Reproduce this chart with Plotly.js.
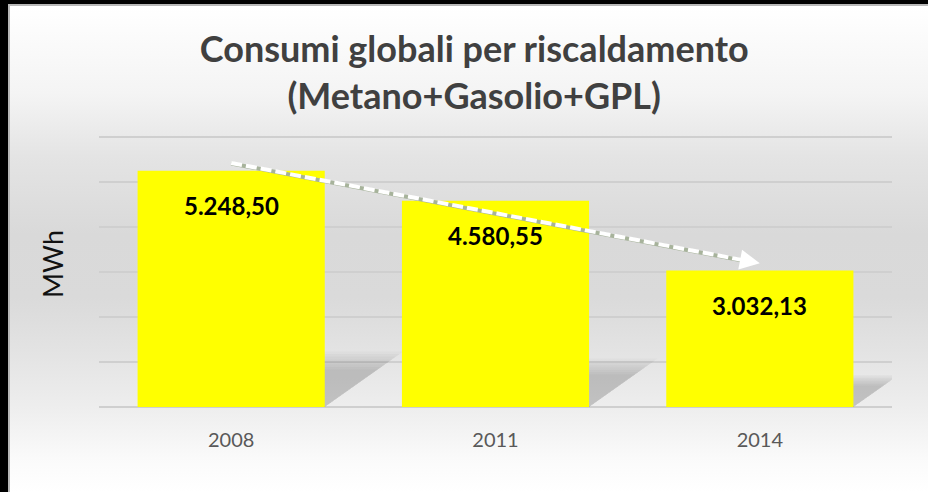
<!DOCTYPE html>
<html>
<head>
<meta charset="utf-8">
<script src="https://cdn.plot.ly/plotly-3.0.1.min.js"></script>
<style>
  html, body { margin: 0; padding: 0; width: 928px; height: 492px; background: #000; overflow: hidden; }
  #bg { position: absolute; left: 8px; top: 4px; width: 918px; height: 486px;
        border-left: 2px solid #b8b8b8; border-top: 2px solid #b8b8b8;
        background: linear-gradient(to bottom, #ffffff 0%, #f4f4f4 18%, #e4e4e4 31%, #d9d9d9 47%, #dadada 60%, #e3e3e3 71%, #eeeeee 83%, #fafafa 93%, #ffffff 100%); }
  #chart { position: absolute; left: 0; top: 0; width: 928px; height: 492px; }
</style>
</head>
<body>
<div id="bg"></div>
<div id="chart"></div>
<script>
const categories = ['2008', '2011', '2014'];
const values = [5248.50, 4580.55, 3032.13];
const gridValues = [1000, 2000, 3000, 4000, 5000, 6000];
const titleText = 'Consumi globali per riscaldamento<br>(Metano+Gasolio+GPL)';
const yTitle = 'MWh';
const trendOffsets = [175, 160];

function fmtIt(v) {
  const parts = v.toFixed(2).split('.');
  const intPart = parts[0].replace(/\B(?=(\d{3})+(?!\d))/g, '.');
  return intPart + ',' + parts[1];
}

const idx = categories.map((c, i) => i);
const barWidth = 0.708;
const barHalf = barWidth / 2;
const shapes = [];
values.forEach((v, i) => {
  const H = 0.22 * v;
  const dx = 5.3e-5 * v;
  const L = i - barHalf, R = i + barHalf;
  for (let k = 0; k < 8; k++) {
    const s = 0.72 + 0.05 * k;
    const h = H * s, d = dx * s;
    shapes.push({
      type: 'path', xref: 'x', yref: 'y', layer: 'between',
      path: `M ${L},0 L ${R},0 L ${R + d},${h} L ${L + d},${h} Z`,
      fillcolor: 'rgba(0,0,0,0.022)', line: { width: 0 }
    });
  }
});

const n = values.length - 1;
const y0 = values[0] + trendOffsets[0];
const y2 = values[n] + trendOffsets[1];
const tEnd = 0.975;
const xe = n * tEnd, ye = y0 + (y2 - y0) * tEnd;
shapes.push({ type: 'line', xref: 'x', yref: 'y', layer: 'above',
  x0: 0, y0: y0 - 12, x1: xe, y1: ye - 12, line: { color: '#a7b39b', width: 4 } });
shapes.push({ type: 'line', xref: 'x', yref: 'y', layer: 'above',
  x0: 0, y0: y0, x1: xe, y1: ye, line: { color: '#ffffff', width: 4, dash: '11px,4px' } });

const annotations = values.map((v, i) => ({
  x: idx[i], y: v, xref: 'x', yref: 'y',
  text: '<b>' + fmtIt(v) + '</b>', showarrow: false,
  yanchor: 'middle', yshift: -35,
  font: { family: 'Lato, "Open Sans", sans-serif', size: 24, color: '#000000' }
}));
annotations.push({
  x: n, y: y2, xref: 'x', yref: 'y', axref: 'x', ayref: 'y',
  ax: xe - 0.02, ay: ye + (y0 - y2) * 0.01,
  text: '', showarrow: true, arrowhead: 2, arrowsize: 1.0, arrowwidth: 4,
  arrowcolor: '#ffffff', standoff: 0
});
annotations.push({
  x: -47 / 793, y: (407 - 264) / 272, xref: 'paper', yref: 'paper',
  text: yTitle, textangle: -90, showarrow: false,
  xanchor: 'center', yanchor: 'middle',
  font: { family: 'Lato, sans-serif', size: 27, color: '#111111' }
});

const trace = {
  type: 'bar', x: idx, y: values, width: barWidth,
  marker: { color: '#ffff00', line: { width: 0 } },
  hoverinfo: 'skip'
};

const layout = {
  width: 928, height: 492,
  margin: { l: 99, r: 36, t: 135, b: 85 },
  paper_bgcolor: 'rgba(0,0,0,0)', plot_bgcolor: 'rgba(0,0,0,0)',
  showlegend: false,
  title: {
    text: '<b>' + titleText + '</b>',
    x: 0.511, xanchor: 'center', xref: 'container',
    y: 1 - 62 / 492, yanchor: 'top', yref: 'container',
    font: { family: 'Lato, sans-serif', size: 36, color: '#404040' }
  },
  xaxis: {
    type: 'linear', range: [-0.5, n + 0.5], tickvals: idx, ticktext: categories,
    showgrid: false, zeroline: false, showline: false,
    ticks: '', ticklabelstandoff: 19,
    tickfont: { family: 'Lato, sans-serif', size: 20, color: '#595959' }
  },
  yaxis: {
    range: [0, 6044], tickvals: gridValues, showticklabels: false, ticks: '',
    showgrid: true, gridcolor: '#cfcfcf', gridwidth: 1.5,
    zeroline: true, zerolinecolor: '#cfcfcf', zerolinewidth: 1.5, showline: false,
    automargin: false
  },
  shapes: shapes,
  annotations: annotations
};

Plotly.newPlot('chart', [trace], layout, { displayModeBar: false, staticPlot: true });
</script>
</body>
</html>
